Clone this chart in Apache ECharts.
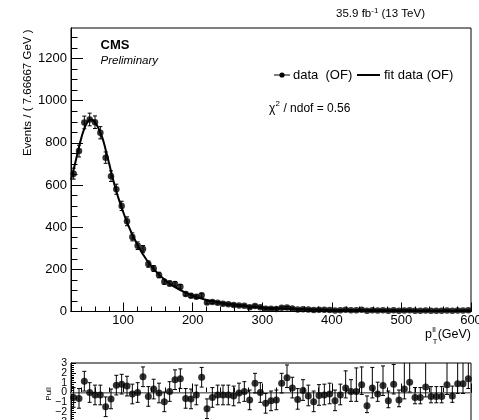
<!DOCTYPE html>
<html><head><meta charset="utf-8">
<script src="https://cdn.jsdelivr.net/npm/echarts@6/dist/echarts.min.js"></script>
<style>html,body{margin:0;padding:0;background:#fff}#c{width:479px;height:420px}</style>
</head><body><div id="c"></div>
<script>
const xMin = 25, xMax = 600, binWidth = 7.66667;
const yMax = 1345;
const events = [654,761,897,911,898,848,730,642,580,501,
428,354,312,296,225,204,173,141,133,131,
117,83,75,70,77,43,45,41,37,34,
31,28,27,20,26,20,13,13,12,18,
19,14,9,11,9,7,8,8,7,5,
6,8,6,6,8,3,6,5,6,3,
6,3,5,6,3,3,5,3,3,3,
5,3,5,5,6];
const eventErr = [26,28,30,30,30,29,27,25,24,22,
21,19,18,17,15,14,13,12,12,11,
11,9,9,8,9,7,7,6,6,6,
6,5,5,5,5,5,4,4,4,4,
4,4,3,3,3,3,3,3,3,2,
2,3,2,2,3,2,2,2,2,2,
2,2,2,2,2,2,2,2,2,2,
2,2,2,2,2];
const fitX = [25,30,35,40,45,50,53,56,60,65,70,75,80,85,90,95,100,105,110,115,120,125,130,135,140,145,150,160,170,180,190,200,210,220,230,240,250,260,270,280,300,320,340,360,380,400,450,500,550,600];
const fitY = [625,690,760,825,875,905,911,908,895,865,825,765,700,632,572,520,472,428,388,352,320,290,263,239,217,198,180,150,125,105,89,75,64,55,47,41,36,31,27,24,19,15,12.5,10.5,9,7.5,5.5,4.2,3.4,2.8];
const pulls = [-0.5,-0.6,1.15,0.0,-0.25,-0.25,-1.45,-0.65,0.75,0.85,
0.65,-0.15,0.0,1.6,-0.4,0.35,-0.05,-0.95,0.1,1.3,
1.4,-0.6,-0.65,-0.25,1.55,-1.65,-0.5,-0.25,-0.25,-0.25,
-0.35,-0.05,0.1,-0.75,0.95,0,-1.1,-0.85,-0.75,0.95,
1.5,0.45,-0.7,0.2,-0.35,-0.95,-0.3,-0.25,-0.15,-0.85,
-0.25,0.45,0.1,0.1,0.8,-1.35,0.45,-0.15,0.7,-0.85,
0.85,-0.75,0.35,1.05,-0.5,-0.5,0.55,-0.4,-0.4,-0.4,
0.8,-0.35,0.9,0.9,1.4];
const pullErrHi = [1,1,1,1,1,1,1,1,1,1,
1,1,1,1,1,1,1,1,1,1,
1,1,1,1,1,1,1,1,1,1,
1,1,1,1,1,1,1,1,1,1,
1.3,1.1,1.1,1.1,1.1,1.1,1.1,1.1,1.1,1.1,
1.1,1.75,1.2,2.4,1.8,1.0,2.1,1.2,2.0,1.0,
2.0,1.0,2.7,2.0,1.0,1.0,2.5,1.0,1.0,1.0,
2.3,1.0,2.2,2.2,2.0];
const pullErrLo = [1,1,1,1,1,1,1,1,1,1,
1,1,1,1,1,1,1,1,1,1,
1,1,1,1,1,1,1,1,1,1,
1,1,1,1,1,1,1,1,1,1,
1,1,1,1,1,1,1,1,1,1,
1,1,1,1,1,0.7,1,0.75,1,0.7,
1,0.7,1,1,0.65,0.65,1,0.65,0.65,0.65,
1,0.65,1,1,1];
const xMajorTicks = [100,200,300,400,500,600];
const xMinorTicks = [40,60,80,120,140,160,180,220,240,260,280,320,340,360,380,420,440,460,480,520,540,560,580];
const yMajorTicks = [0,200,400,600,800,1000,1200];
const yMinorTicks = [50,100,150,250,300,350,450,500,550,650,700,750,850,900,950,1050,1100,1150,1250,1300];
const pullLabelsOdd = [-3,-1,1,3];
const pullLabelsEven = [-2,0,2];

const FONT = '"Liberation Sans", Arial, Helvetica, sans-serif';
const centers = events.map((v, i) => xMin + binWidth * (i + 0.5));

const ctx = document.createElement('canvas').getContext('2d');
function tw(str, size, weight, style) {
  ctx.font = (style || 'normal') + ' ' + (weight || 'normal') + ' ' + size + 'px ' + FONT;
  return ctx.measureText(str).width;
}
function T(x, y, text, size, opt) {
  opt = opt || {};
  return { type: 'text', x: x, y: y, rotation: opt.rotation || 0, silent: true,
    style: { text: text, fill: '#000', font: (opt.style || 'normal') + ' ' + (opt.weight || 'normal') + ' ' + size + 'px ' + FONT,
      textAlign: opt.align || 'left', textVerticalAlign: 'middle' } };
}

function errRender(capHalf, color) {
  return function (params, api) {
    const x = api.value(0), y = api.value(1), lo = api.value(2), hi = api.value(3);
    const p0 = api.coord([x, y - lo]);
    const p1 = api.coord([x, y + hi]);
    const st = { stroke: color, lineWidth: 1 };
    return { type: 'group', children: [
      { type: 'line', shape: { x1: p0[0], y1: p0[1], x2: p1[0], y2: p1[1] }, style: st },
      { type: 'line', shape: { x1: p0[0] - capHalf, y1: p0[1], x2: p0[0] + capHalf, y2: p0[1] }, style: st },
      { type: 'line', shape: { x1: p1[0] - capHalf, y1: p1[1], x2: p1[0] + capHalf, y2: p1[1] }, style: st }
    ] };
  };
}

const chart = echarts.init(document.getElementById('c'), null, { renderer: 'canvas' });

const axLine = { show: true, lineStyle: { color: '#000', width: 1 } };
function xAx(grid, custom, len, labels) {
  return { type: 'value', gridIndex: grid, position: 'bottom', min: xMin, max: xMax,
    axisLine: axLine,
    axisTick: { show: true, inside: true, length: len, customValues: custom, lineStyle: { color: '#000', width: 1 } },
    axisLabel: labels ? { show: true, customValues: xMajorTicks, color: '#000', fontSize: 13, fontFamily: FONT, margin: 2,
      alignMaxLabel: 'center', alignMinLabel: 'center', hideOverlap: false, formatter: v => String(v) } : { show: false },
    splitLine: { show: false } };
}
function yAx(grid, custom, len, labels) {
  return { type: 'value', gridIndex: grid, position: 'left', min: 0, max: yMax,
    axisLine: axLine,
    axisTick: { show: true, inside: true, length: len, customValues: custom, lineStyle: { color: '#000', width: 1 } },
    axisLabel: labels ? { show: true, customValues: yMajorTicks, color: '#000', fontSize: 13, fontFamily: FONT, margin: 4,
      hideOverlap: false, formatter: v => String(v) } : { show: false },
    splitLine: { show: false } };
}
function pullAx(labelVals, withTicks) {
  return { type: 'value', gridIndex: 1, position: 'left', min: -3, max: 3, interval: 1,
    axisLine: withTicks ? axLine : { show: false },
    axisTick: { show: withTicks, inside: true, length: 5, lineStyle: { color: '#000' } },
    minorTick: { show: withTicks, splitNumber: 5, length: 3, lineStyle: { color: '#000' } },
    axisLabel: { show: true, customValues: labelVals, showMaxLabel: true, showMinLabel: true, hideOverlap: false,
      color: '#000', fontSize: 10.5, fontFamily: FONT, margin: 4,
      formatter: v => String(v).replace('-', '\u2212') },
    splitLine: { show: false } };
}

const lumiA = '35.9 fb', lumiS = '-1', lumiB = ' (13 TeV)';
const lumiW = tw(lumiA, 11.5) + tw(lumiS, 8) + tw(lumiB, 11.5);
const lumiX = 425 - lumiW;
const chiX = 269;
const chiW0 = tw('\u03c7', 12);
const pW = tw('p', 12.5);

const option = {
  animation: false,
  backgroundColor: '#fff',
  grid: [
    { left: 71, right: 8, top: 28, bottom: 108.5, outerBoundsMode: 'none', containLabel: false,
      show: true, borderColor: '#000', borderWidth: 1, backgroundColor: 'transparent' },
    { left: 71, right: 8, top: 363, height: 59, outerBoundsMode: 'none', containLabel: false,
      show: true, borderColor: '#000', borderWidth: 1, backgroundColor: 'transparent' }
  ],
  xAxis: [
    xAx(0, xMajorTicks, 9, true),
    xAx(0, xMinorTicks, 5, false),
    xAx(1, xMajorTicks, 9, false),
    xAx(1, xMinorTicks, 5, false)
  ],
  yAxis: [
    yAx(0, yMajorTicks, 12, true),
    yAx(0, yMinorTicks, 6.5, false),
    pullAx(pullLabelsOdd, true),
    pullAx(pullLabelsEven, false)
  ],
  series: [
    { type: 'custom', name: 'data errors', xAxisIndex: 0, yAxisIndex: 0, clip: true, z: 2,
      renderItem: errRender(2, '#000'),
      encode: { x: 0, y: 1 },
      data: events.map((v, i) => [centers[i], v, eventErr[i], eventErr[i]]) },
    { type: 'scatter', name: 'data  (OF)', xAxisIndex: 0, yAxisIndex: 0, symbol: 'circle', symbolSize: 6.5, z: 3,
      itemStyle: { color: '#000' }, data: events.map((v, i) => [centers[i], v]) },
    { type: 'line', name: 'fit data (OF)', xAxisIndex: 0, yAxisIndex: 0, smooth: 0.5, showSymbol: false, z: 4,
      lineStyle: { color: '#000', width: 2 }, data: fitX.map((x, i) => [x, fitY[i]]) },
    { type: 'custom', name: 'pull errors', xAxisIndex: 2, yAxisIndex: 2, clip: true, z: 3,
      renderItem: errRender(2, '#000'),
      encode: { x: 0, y: 1 },
      data: pulls.map((v, i) => [centers[i], v, pullErrLo[i], pullErrHi[i]]) },
    { type: 'scatter', name: 'Pull', xAxisIndex: 2, yAxisIndex: 2, symbol: 'circle', symbolSize: 7, z: 4,
      itemStyle: { color: '#000' }, data: pulls.map((v, i) => [centers[i], v]),
      markLine: { silent: true, symbol: ['none', 'none'], label: { show: false }, z: 1,
        lineStyle: { color: '#999', width: 1.5, type: 'solid' }, data: [{ yAxis: 0 }] } }
  ],
  graphic: [
    T(lumiX, 14, lumiA, 11.5),
    T(lumiX + tw(lumiA, 11.5), 10.5, lumiS, 8),
    T(lumiX + tw(lumiA, 11.5) + tw(lumiS, 8), 14, lumiB, 11.5),
    T(100.5, 45, 'CMS', 13, { weight: 'bold' }),
    T(100.5, 61, 'Preliminary', 11.5, { style: 'italic' }),
    T(28.3, 29.5, 'Events / ( 7.66667 GeV )', 11.5, { align: 'right', rotation: Math.PI / 2 }),
    { type: 'line', silent: true, shape: { x1: 274, y1: 75, x2: 290, y2: 75 }, style: { stroke: '#000', lineWidth: 1 } },
    { type: 'circle', silent: true, shape: { cx: 282, cy: 75, r: 2.6 }, style: { fill: '#000' } },
    T(293, 75, 'data  (OF)', 13),
    { type: 'line', silent: true, shape: { x1: 357, y1: 75, x2: 380, y2: 75 }, style: { stroke: '#000', lineWidth: 2 } },
    T(384, 75, 'fit data (OF)', 13),
    T(chiX, 108.5, '\u03c7', 12),
    T(chiX + chiW0 + 0.3, 104, '2', 8),
    T(chiX + chiW0 + tw('2', 8) + 0.3, 108.5, ' / ndof = 0.56', 12),
    T(425, 335, 'p', 12.5),
    T(425 + pW + 0.3, 330, 'll', 8),
    T(425 + pW + 0.8, 341.5, 'T', 7.5),
    T(471, 335, '(GeV)', 12.5, { align: 'right' }),
    T(48.3, 394, 'Pull', 8, { align: 'center', rotation: Math.PI / 2 })
  ]
};
chart.setOption(option);
</script>
</body></html>
